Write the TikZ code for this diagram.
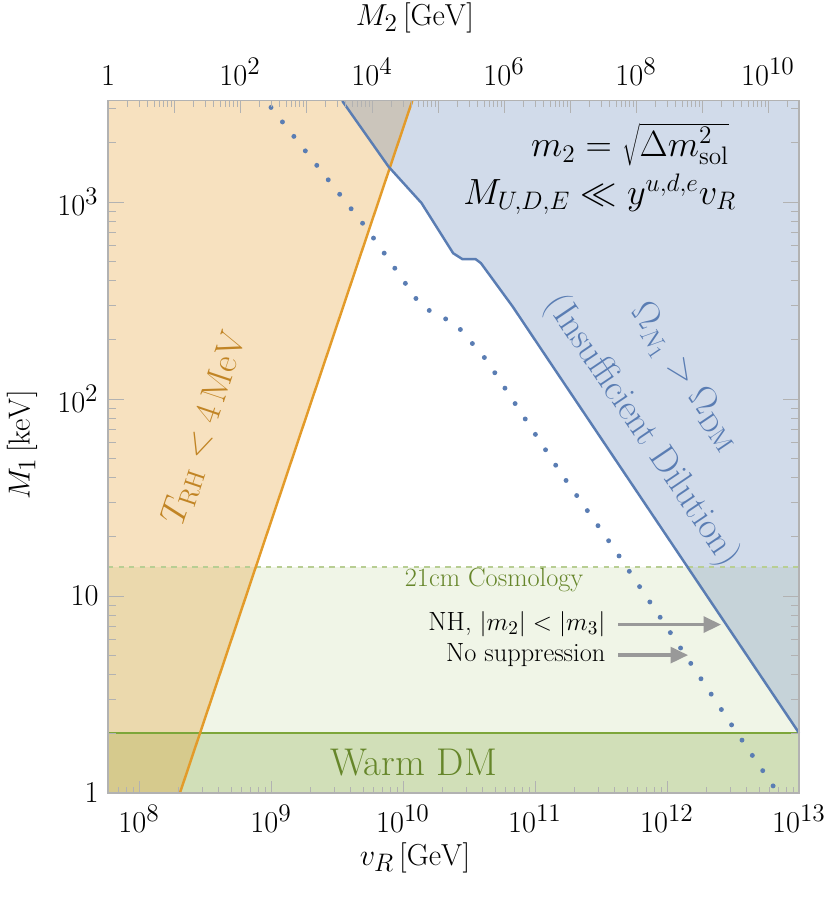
\documentclass[tikz,border=0pt]{standalone}
\usepackage{tikz}
\usetikzlibrary{arrows.meta}
\definecolor{trhorange}{HTML}{E39B2A}
\definecolor{omblue}{HTML}{5A7DB3}
\definecolor{wdmgreen}{HTML}{7DA63A}
\definecolor{wdmtext}{HTML}{66862A}
\tikzset{
  ticklab/.style={font=\fontsize{19}{21}\selectfont},
  axlab/.style={font=\fontsize{19}{22}\selectfont},
  tickline/.style={draw=gray!60, line width=0.5pt},
  hintarrow/.style={draw=gray!80, line width=2pt, -{Triangle[length=10pt,width=9pt]}}
}
\begin{document}
\begin{tikzpicture}
  \useasboundingbox (0,0) rectangle (16.6,-17.94);
  % data frame: x = log10(vR)-8, y = log10(M1/keV)
  \begin{scope}[x=2.64cm,y=3.94cm,shift={(2.78cm,-15.86cm)}]
    % Bands
    \fill[wdmgreen!15, opacity=0.8] (-0.235,0.305) rectangle (5,1.147);
    \fill[wdmgreen!45, opacity=0.8] (-0.235,0) rectangle (5,0.305);
    \fill[trhorange, opacity=0.3] (-0.235,0) -- (0.31,0) -- (2.07,3.513) -- (-0.235,3.513) -- cycle;
    \fill[omblue, opacity=0.28] (1.54,3.513) -- (1.89,3.18) -- (2.14,2.995) -- (2.38,2.74)
      -- (2.45,2.71) -- (2.55,2.71) -- (2.59,2.69) -- (2.83,2.47) -- (3.10,2.20) -- (5,0.305)
      -- (5,3.513) -- cycle;
    % Boundaries
    \draw[wdmgreen!55, line width=1.4pt, dashed] (-0.235,1.147) -- (5,1.147);
    \draw[wdmgreen, line width=1.4pt] (-0.235,0.305) -- (5,0.305);
    \draw[trhorange, line width=1.4pt] (0.31,0) -- (2.07,3.513);
    \draw[omblue, line width=1.4pt] (1.54,3.513) -- (1.89,3.18) -- (2.14,2.995) -- (2.38,2.74)
      -- (2.45,2.71) -- (2.55,2.71) -- (2.59,2.69) -- (2.83,2.47) -- (3.10,2.20) -- (5,0.305);
    \draw[omblue, line width=1.4pt, dashed] (5,0) -- (5,3.513);
    \draw[omblue, line width=2.8pt, line cap=round, dash pattern=on 0pt off 10.5pt]
      (1.00,3.48) -- (1.72,2.87) -- (1.89,2.71) -- (2.14,2.47) -- (2.40,2.38) -- (2.63,2.20)
      -- (3.20,1.62) -- (3.59,1.25) -- (3.98,0.86) -- (4.48,0.355) -- (4.81,0.03);
    % Ticks
    \foreach \d in {0,...,4}{
      \draw[tickline] (\d,0) -- ++(0,0.06);
      \foreach \k in {2,...,9}{
        \draw[tickline] ({\d+log10(\k)},0) -- ++(0,0.03);
      }
    }
    \foreach \k in {7,8,9}{\draw[tickline] ({log10(\k)-1},0) -- ++(0,0.03);}
    \foreach \d in {0,...,3}{
      \draw[tickline] (-0.235,\d) -- ++(0.12,0);
      \draw[tickline] (5,\d) -- ++(-0.12,0);
    }
    \foreach \d in {0,1,2}{
      \foreach \k in {2,...,9}{
        \draw[tickline] (-0.235,{\d+log10(\k)}) -- ++(0.06,0);
        \draw[tickline] (5,{\d+log10(\k)}) -- ++(-0.06,0);
      }
    }
    \foreach \k in {2,3}{
      \draw[tickline] (-0.235,{3+log10(\k)}) -- ++(0.06,0);
      \draw[tickline] (5,{3+log10(\k)}) -- ++(-0.06,0);
    }
    \foreach \L in {0,...,10}{
      \draw[tickline] ({\L/2-0.235},3.513) -- ++(0,-0.06);
    }
    \foreach \L in {0,...,9}{
      \foreach \k in {2,...,9}{
        \draw[tickline] ({(\L+log10(\k))/2-0.235},3.513) -- ++(0,-0.03);
      }
    }
    \foreach \k in {2}{\draw[tickline] ({(10+log10(\k))/2-0.235},3.513) -- ++(0,-0.03);}
    \draw[gray!60, line width=0.6pt] (-0.235,0) rectangle (5,3.513);
    % Tick labels
    \foreach \d/\e in {0/8,1/9,2/10,3/11,4/12,5/13}{
      \node[ticklab, below] (bx\e) at (\d,-0.03) {$10^{\e}$};
    }
    \node[ticklab, left] (ly0) at (-0.26,0) {$1$};
    \node[ticklab, left] (ly1) at (-0.26,1) {$10$};
    \node[ticklab, left] (ly2) at (-0.26,2) {$10^2$};
    \node[ticklab, left] (ly3) at (-0.26,3) {$10^3$};
    \node[ticklab, above] (tx0) at (-0.235,3.56) {$1$};
    \foreach \L in {2,4,6,8,10}{
      \node[ticklab, above] (tx\L) at ({\L/2-0.235},3.56) {$10^{\L}$};
    }
    % Region labels
    \node[trhorange!85!black, rotate=71.5, font=\fontsize{21}{23}\selectfont] (trh) at (0.50,1.85) {$T_{\mathrm{RH}} < 4\,\mathrm{MeV}$};
    \node[omblue, rotate=-56, font=\fontsize{21}{23}\selectfont] (omega) at (4.13,2.11) {$\Omega_{N_1} > \Omega_{\mathrm{DM}}$};
    \node[omblue, rotate=-56, font=\fontsize{21}{23}\selectfont] (dil) at (3.81,1.84) {(Insufficient Dilution)};
    \node[font=\fontsize{20}{23}\selectfont] (msol) at (3.72,3.29) {$m_2 = \sqrt{\Delta m^2_{\mathrm{sol}}}$};
    \node[font=\fontsize{20}{23}\selectfont] (mude) at (3.49,3.04) {$M_{U,D,E} \ll y^{u,d,e} v_R$};
    \node[wdmtext, font=\fontsize{15}{17}\selectfont] (cosmo) at (2.69,1.08) {21cm Cosmology};
    \node[wdmtext, font=\fontsize{22}{24}\selectfont] (warm) at (2.08,0.155) {Warm DM};
    \node[font=\fontsize{15}{17}\selectfont, left] (nh) at (3.58,0.855) {NH, $|m_2| < |m_3|$};
    \node[font=\fontsize{15}{17}\selectfont, left] (nosup) at (3.58,0.70) {No suppression};
    \coordinate (nhtip) at (4.41,0.855);
    \coordinate (nosuptip) at (4.16,0.70);
    \draw[hintarrow] (nh.east) ++(0.05,0) -- (nhtip);
    \draw[hintarrow] (nosup.east) ++(0.05,0) -- (nosuptip);
  \end{scope}
  % Axis labels
  \node[axlab] (xlab) at (8.3,-17.15) {$v_R\,[\mathrm{GeV}]$};
  \node[axlab] (toplab) at (8.3,-0.36) {$M_2\,[\mathrm{GeV}]$};
  \node[axlab, rotate=90] (ylab) at (0.44,-8.9) {$M_1\,[\mathrm{keV}]$};
\end{tikzpicture}
\end{document}
